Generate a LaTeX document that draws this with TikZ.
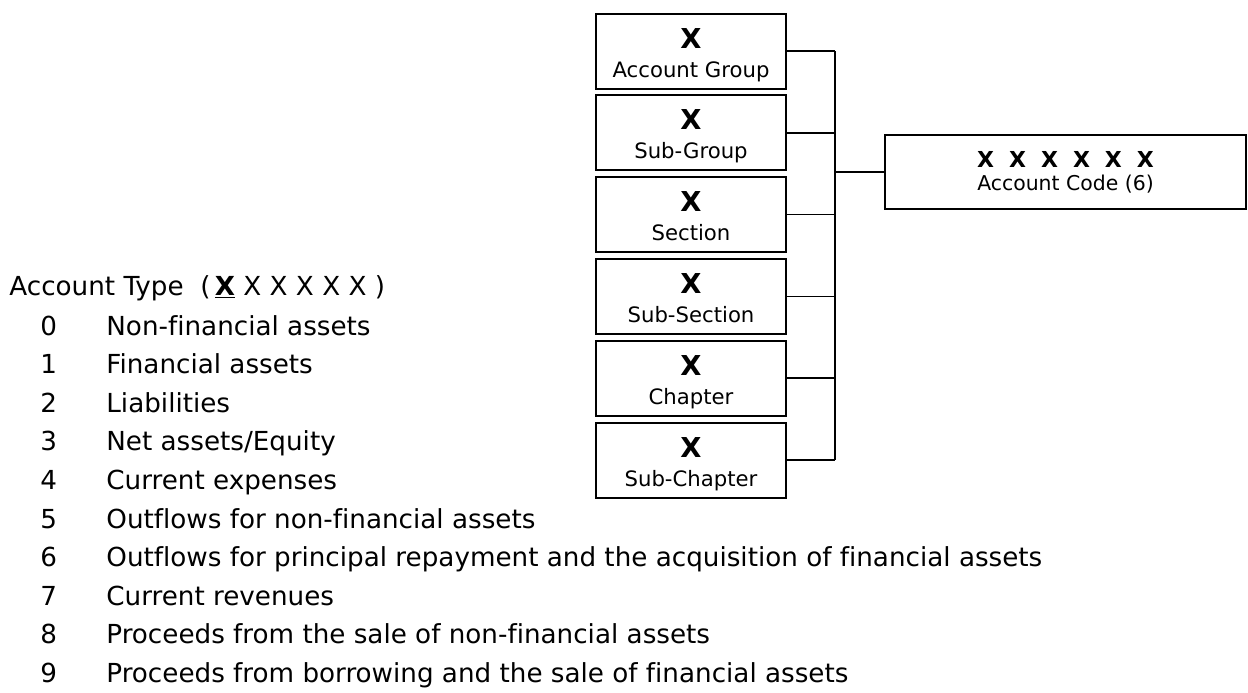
\documentclass[tikz,border=0pt]{standalone}
\usepackage{fontspec}
\setmainfont[Ligatures=NoCommon]{DejaVu Sans}
\tikzset{
	lvlbox/.style={draw, line width=1pt, minimum width=95pt, minimum height=37.5pt, inner sep=0pt, align=center, font=\fontsize{10.6}{14.5}\selectfont},
	codebox/.style={draw, line width=1pt, minimum width=180.5pt, minimum height=37pt, inner sep=0pt, align=center, font=\fontsize{10.2}{11.5}\selectfont},
	wire/.style={line width=0.8pt},
	listtext/.style={anchor=base west, inner sep=0pt, font=\fontsize{13.1}{14}\selectfont}
}
\newcommand{\bigx}{\rule{0pt}{14pt}{\fontsize{13.7}{14}\selectfont\bfseries X}}
\newcommand{\lowstrut}{\rule[-2.5pt]{0pt}{2.5pt}}
\newcommand{\xgap}{\hspace{7.5pt}}

\begin{document}
\begin{tikzpicture}[x=0.5pt, y=-0.5pt]
	\useasboundingbox (0,0) rectangle (1248,692);
	% code digits
	\foreach \i/\lab in {1/Account Group, 2/Sub-Group, 3/Section, 4/Sub-Section, 5/Chapter, 6/Sub-Chapter}{
		\node[lvlbox] (b\i) at (691, {51+81.8*(\i-1)}) {\bigx\\\lab\lowstrut};
	}
	\node[codebox] (code) at (1065.5,172) {\rule{0pt}{9.5pt}{\fontsize{11}{12}\selectfont\bfseries X\xgap X\xgap X\xgap X\xgap X\xgap X}\\Account Code (6)\rule[-3pt]{0pt}{3pt}};
	\coordinate (jn) at (835,172);
	\foreach \i in {1,...,6}{
		\draw[wire] (b\i.east) -- (b\i.east -| jn);
	}
	\draw[wire] (b1.east -| jn) -- (b6.east -| jn);
	\draw[wire] (jn) -- (code.west);
	% account types
	\node[listtext] (head) at (9,295) {Account Type~~(\,\underline{\textbf{X}} X X X X X~)};
	\foreach \n/\txt in {0/Non-financial assets, 1/Financial assets, 2/Liabilities, 3/Net assets\slash Equity, 4/Current expenses, 5/Outflows for non-financial assets, 6/Outflows for principal repayment and the acquisition of financial assets, 7/Current revenues, 8/Proceeds from the sale of non-financial assets, 9/Proceeds from borrowing and the sale of financial assets}{
		\node[listtext] (num\n) at (40, {335+38.6*\n}) {\n};
		\node[listtext] (item\n) at (106, {335+38.6*\n}) {\txt};
	}
\end{tikzpicture}
\end{document}
